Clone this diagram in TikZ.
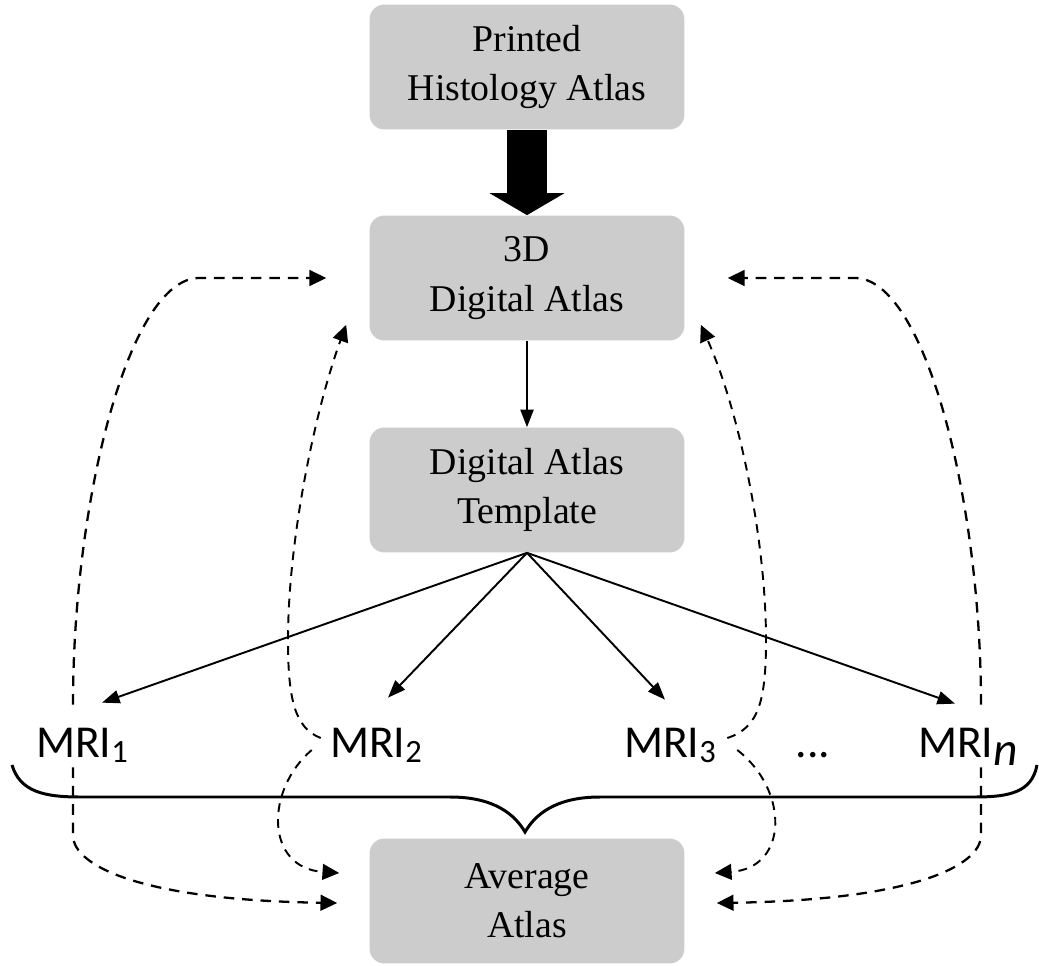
\documentclass[tikz,border=0pt]{standalone}
\usepackage{fontspec}
\setmainfont{Liberation Serif}
\newfontfamily\mrifont{Carlito}
\usepackage{tikz}
\usetikzlibrary{calc,arrows.meta}
\definecolor{box_gray}{HTML}{CCCCCC}
\newcommand{\mriidx}[1]{\raisebox{-3.4pt}{\fontsize{18.5}{18.5}\selectfont #1}}

\begin{document}
\begin{tikzpicture}[x=0.02cm,y=-0.02cm,
    boite/.style={fill=box_gray,rounded corners=0.3cm,minimum width=6.3cm,minimum height=2.5cm,align=center,font=\fontsize{21.5}{28}\selectfont},
    mri/.style={font=\mrifont\fontsize{26}{26}\selectfont,inner sep=0pt,text height=0.6cm,text depth=0.16cm,anchor=base},
    fleche/.style={line width=1.1pt,-{Triangle[length=10pt,width=7.5pt]}},
    grosse/.style={line width=0.8cm,-{Triangle[length=0.44cm,width=1.48cm]}},
    tirets/.style={line width=1.3pt,dash pattern=on 6pt off 4.5pt,-{Triangle[length=9.5pt,width=9pt]}},
    ptirets/.style={line width=1.1pt,dash pattern=on 5pt off 4pt,-{Triangle[length=9.5pt,width=9pt]}}]

    \useasboundingbox (0,0) rectangle (1039,966);

    % Les boites
    \node[boite] (hist) at (527,67) {Printed\\Histology Atlas};
    \node[boite] (dig) at (527,278) {3D\\Digital Atlas};
    \node[boite] (tpl) at (527,490) {Digital Atlas\\Template};
    \node[boite] (avg) at (527,901) {Average\\Atlas};

    % Les images MRI
    \node[mri] (mri1) at (82,757) {MRI\mriidx{1}};
    \node[mri] (mri2) at (376,757) {MRI\mriidx{2}};
    \node[mri] (mri3) at (670,757) {MRI\mriidx{3}};
    \node[mri] (dots) at (813,757) {...};
    \node[mri] (mrin) at (968,757) {MRI\raisebox{-5pt}{\fontsize{27}{27}\selectfont\itshape n}};

    % Fleches pleines
    \draw[grosse] (hist) -- (dig);
    \draw[fleche] (dig) -- (tpl);
    \draw[fleche] (tpl.south) -- ($(mri1.north)+(20,-24)$);
    \draw[fleche] (tpl.south) -- ($(mri2.north)+(12,-29)$);
    \draw[fleche] (tpl.south) -- ($(mri3.north)+(-5,-27)$);
    \draw[fleche] (tpl.south) -- ($(mrin.north)+(-13,-23)$);

    % Accolade
    \draw[line width=1.7pt] (12,765) .. controls (20,792) and (45,797) .. (80,797) -- (450,797)
        .. controls (495,797) and (515,815) .. (525,832)
        .. controls (535,815) and (555,797) .. (600,797) -- (975,797)
        .. controls (1010,797) and (1032,792) .. (1037,765);

    % Tirets exterieurs (MRI 1 et MRI n)
    \draw[tirets] ($(mri1.north)+(-9,-22)$) .. controls +(0,-205) and +(-70,0) .. ($(dig.west)+(-170,0)$) -- ($(dig.west)+(-43,0)$);
    \draw[tirets] ($(mri1.south)+(-9,2)$) -- ++(0,68) .. controls +(0,30) and +(-198,-3) .. ($(avg.west)+(-32,2)$);
    \draw[tirets] ($(mrin.north)+(13,-22)$) .. controls +(0,-205) and +(70,0) .. ($(dig.east)+(170,0)$) -- ($(dig.east)+(43,0)$);
    \draw[tirets] ($(mrin.south)+(13,2)$) -- ++(0,68) .. controls +(0,30) and +(198,-3) .. ($(avg.east)+(32,2)$);

    % Tirets interieurs (MRI 2 et MRI 3)
    \draw[ptirets] ($(mri2.west)+(-9,-8)$) .. controls (295,728) and (288,700) .. (288,640)
        .. controls (288,540) and (315,410) .. ($(dig.south west)+(-23,-16)$);
    \draw[ptirets] ($(mri2.west)+(-18,4)$) .. controls (265,790) and (265,868) .. ($(avg.west)+(-30,-28)$);
    \draw[ptirets] ($(mri3.east)+(11,-8)$) .. controls (759,728) and (766,700) .. (766,640)
        .. controls (766,540) and (739,410) .. ($(dig.south east)+(16,-16)$);
    \draw[ptirets] ($(mri3.east)+(21,4)$) .. controls (789,790) and (789,868) .. ($(avg.east)+(30,-28)$);
\end{tikzpicture}
\end{document}
